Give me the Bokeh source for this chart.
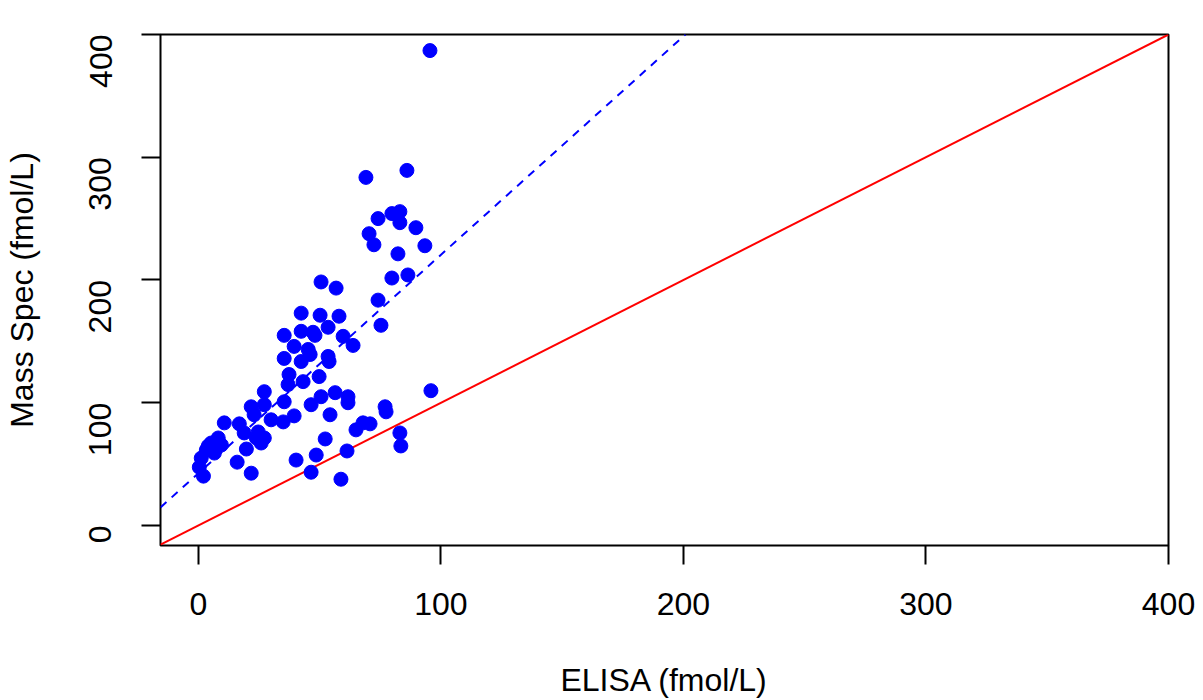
import math
from bokeh.plotting import figure
from bokeh.models import Range1d, FixedTicker
from bokeh.embed import file_html
from bokeh.resources import INLINE

elisa = [95.5, 86.0, 69.1, 79.8, 83.1, 83.1, 74.1, 70.4, 72.4, 89.7,
         93.4, 82.3, 79.8, 86.4, 74.1, 50.6, 56.8, 75.3, 42.4, 50.2,
         58.0, 53.5, 42.4, 35.4, 47.3, 48.1, 59.7, 63.8, 39.5, 45.3,
         46.1, 53.5, 53.9, 35.4, 42.4, 37.4, 49.8, 37.0, 43.2, 27.2,
         56.4, 95.9, 35.4, 46.5, 50.6, 61.7, 61.7, 21.8, 27.2, 23.0,
         30.0, 10.7, 16.9, 35.0, 39.5, 54.3, 77.0, 77.4, 18.9, 24.7,
         27.2, 19.8, 25.9, 65.0, 67.9, 70.8, 83.1, 83.5, 52.3, 8.2,
         5.3, 3.3, 6.6, 1.2, 0.4, 2.1, 16.0, 21.8, 40.3, 61.3,
         48.6, 46.5, 58.8, 23.9, 4.1, 9.5]
mass_spec = [386.9, 289.3, 283.6, 254.1, 255.7, 246.7, 250.0, 237.7, 228.7, 242.6,
             227.9, 221.3, 201.6, 204.1, 183.6, 198.4, 193.4, 163.1, 173.0, 171.3,
             170.5, 161.5, 158.2, 154.9, 157.4, 154.9, 154.1, 146.7, 145.9, 143.4,
             139.3, 137.7, 133.6, 136.1, 133.6, 123.0, 121.3, 114.8, 117.2, 109.0,
             108.2, 109.8, 100.8, 98.4, 104.9, 104.9, 100.0, 96.7, 98.4, 90.2,
             86.1, 83.6, 82.8, 84.4, 89.3, 90.2, 96.7, 92.6, 75.4, 76.2,
             71.3, 62.3, 67.2, 77.9, 83.6, 82.8, 75.4, 64.8, 70.5, 71.3,
             67.2, 61.5, 59.0, 54.9, 47.5, 40.2, 51.6, 42.6, 53.3, 60.7,
             57.4, 43.4, 37.7, 71.3, 64.8, 65.6]

fit_intercept = 42.5
fit_slope = 1.78
tick_values = [0, 100, 200, 300, 400]
x_lo, x_hi = -15.6, 400
y_lo, y_hi = -16.3, 400

FONT = "Liberation Sans"

p = figure(width=1195, height=700, output_backend="svg", toolbar_location=None,
           x_range=Range1d(x_lo, x_hi), y_range=Range1d(y_lo, y_hi),
           min_border_left=159, min_border_right=27, min_border_top=34,
           min_border_bottom=150)
p.grid.visible = False
p.outline_line_color = "black"
p.outline_line_width = 2
p.background_fill_color = "white"
p.border_fill_color = "white"

for ax in (p.xaxis[0], p.yaxis[0]):
    ax.ticker = FixedTicker(ticks=tick_values)
    ax.axis_line_color = None
    ax.major_tick_line_width = 2
    ax.major_tick_line_color = "black"
    ax.major_tick_out = 19
    ax.major_tick_in = 0
    ax.minor_tick_line_color = None
    ax.major_label_text_font = FONT
    ax.major_label_text_font_size = "32px"
    ax.major_label_text_color = "black"
    ax.axis_label_text_font = FONT
    ax.axis_label_text_font_size = "32px"
    ax.axis_label_text_font_style = "normal"
    ax.axis_label_text_color = "black"

p.xaxis.axis_label = "ELISA (fmol/L)"
p.yaxis.axis_label = "Mass Spec (fmol/L)"
p.xaxis.major_label_standoff = 28
p.yaxis.major_label_standoff = 41
p.yaxis.major_label_orientation = math.pi / 2
p.xaxis.axis_label_standoff = 44
p.yaxis.axis_label_standoff = 36

# identity line
p.line([x_lo, x_hi], [x_lo, x_hi], line_color="red", line_width=2)
# fitted regression line
fx = [x_lo, (y_hi - fit_intercept) / fit_slope]
fy = [fit_intercept + fit_slope * v for v in fx]
p.line(fx, fy, line_color="blue", line_width=2, line_dash="8 7")

p.scatter(elisa, mass_spec, size=14, fill_color="blue", line_color="blue")

open("out.html", "w").write(file_html(p, INLINE))
